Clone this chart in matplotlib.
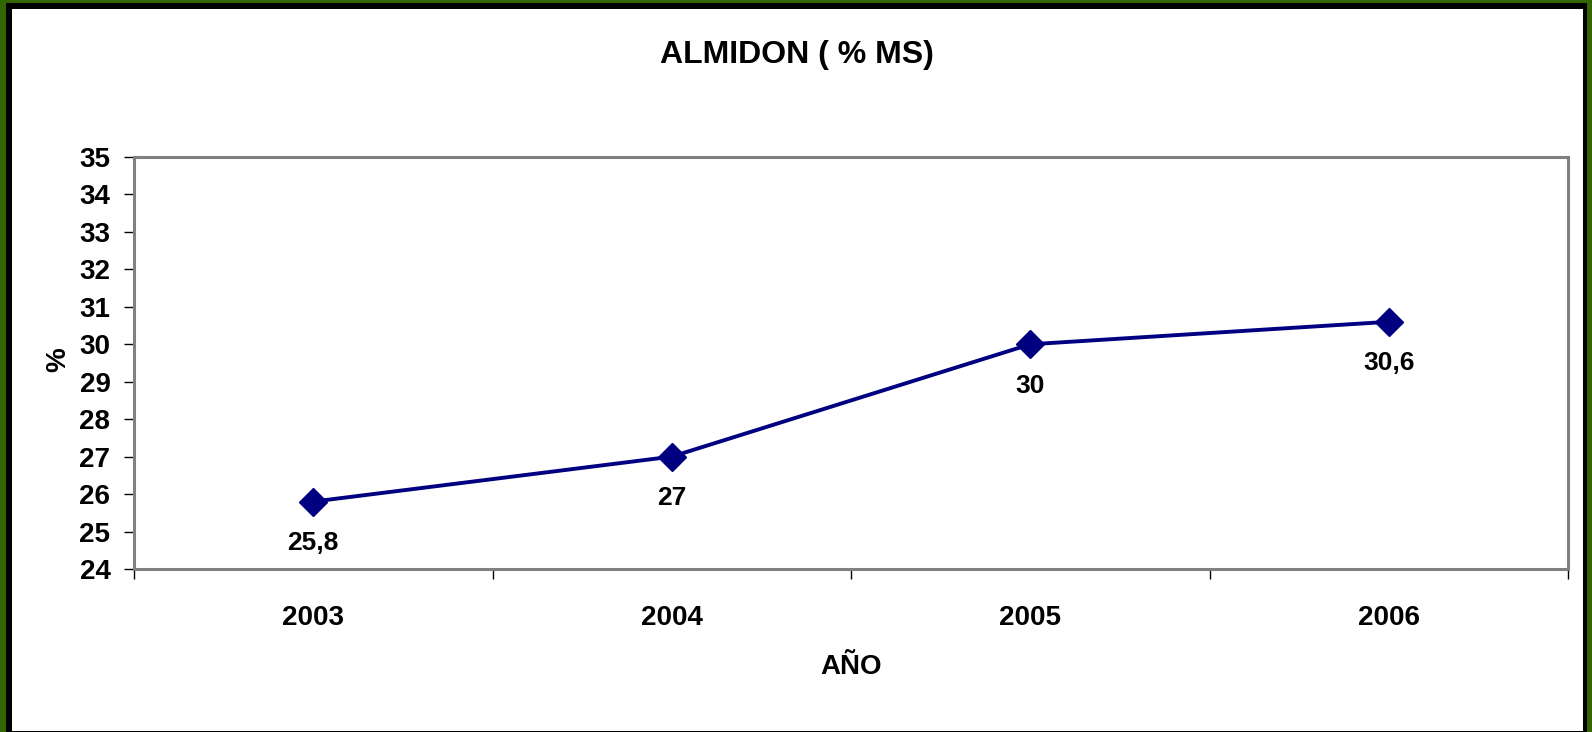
import matplotlib
matplotlib.use('Agg')
import matplotlib.pyplot as plt
from matplotlib.patches import Rectangle

# datos
anios = ['2003', '2004', '2005', '2006']
almidon = [25.8, 27, 30, 30.6]
etiquetas = ['25,8', '27', '30', '30,6']

plt.rcParams['font.family'] = ['Liberation Sans', 'DejaVu Sans']
plt.rcParams['font.weight'] = 'bold'

W, H = 1592, 732
fig = plt.figure(figsize=(W / 100, H / 100), dpi=100)
fig.patch.set_facecolor('#336600')

# marco negro y fondo blanco
fig.patches.append(Rectangle((6 / W, 0), (1587 - 6) / W, (H - 3) / H,
                             transform=fig.transFigure, facecolor='black',
                             edgecolor='none', zorder=-2))
fig.patches.append(Rectangle((12 / W, 1 / H), (1583 - 12) / W, (H - 9 - 1) / H,
                             transform=fig.transFigure, facecolor='white',
                             edgecolor='none', zorder=-1))

ax = fig.add_axes([134 / W, (H - 569) / H, (1568 - 134) / W, (569 - 157) / H])
ax.set_facecolor('white')

x = list(range(len(anios)))
ax.plot(x, almidon, color='#000080', linewidth=2.8, marker='D', markersize=14,
        zorder=3, clip_on=False)

for xi, yi, txt in zip(x, almidon, etiquetas):
    ax.annotate(txt, (xi, yi), xytext=(0, -30), textcoords='offset points',
                ha='center', va='center', fontsize=19, fontweight='bold')

ax.set_xlim(-0.5, len(anios) - 0.5)
ax.set_ylim(24, 35)
ax.set_yticks(range(24, 36))
ax.tick_params(axis='y', direction='out', length=7, width=1, color='black',
               labelsize=20, pad=10)
ax.set_xticks(x)
ax.set_xticklabels(anios)
ax.set_xticks([i - 0.5 for i in range(len(anios) + 1)], minor=True)
ax.tick_params(axis='x', which='major', length=0, labelsize=20, pad=26)
ax.tick_params(axis='x', which='minor', direction='out', length=7, width=1,
               color='black')

for s in ax.spines.values():
    s.set_color('#808080')
    s.set_linewidth(2.2)

fig.text(797 / W, 1 - 55 / H, 'ALMIDON ( % MS)', ha='center', va='center',
         fontsize=23, fontweight='bold')
fig.text(851 / W, 1 - 667 / H, 'AÑO', ha='center', va='center',
         fontsize=20, fontweight='bold')
fig.text(58 / W, 1 - 360 / H, '%', ha='center', va='center', rotation=90,
         fontsize=20, fontweight='bold')

fig.savefig('out.png', dpi=100, facecolor=fig.get_facecolor())
